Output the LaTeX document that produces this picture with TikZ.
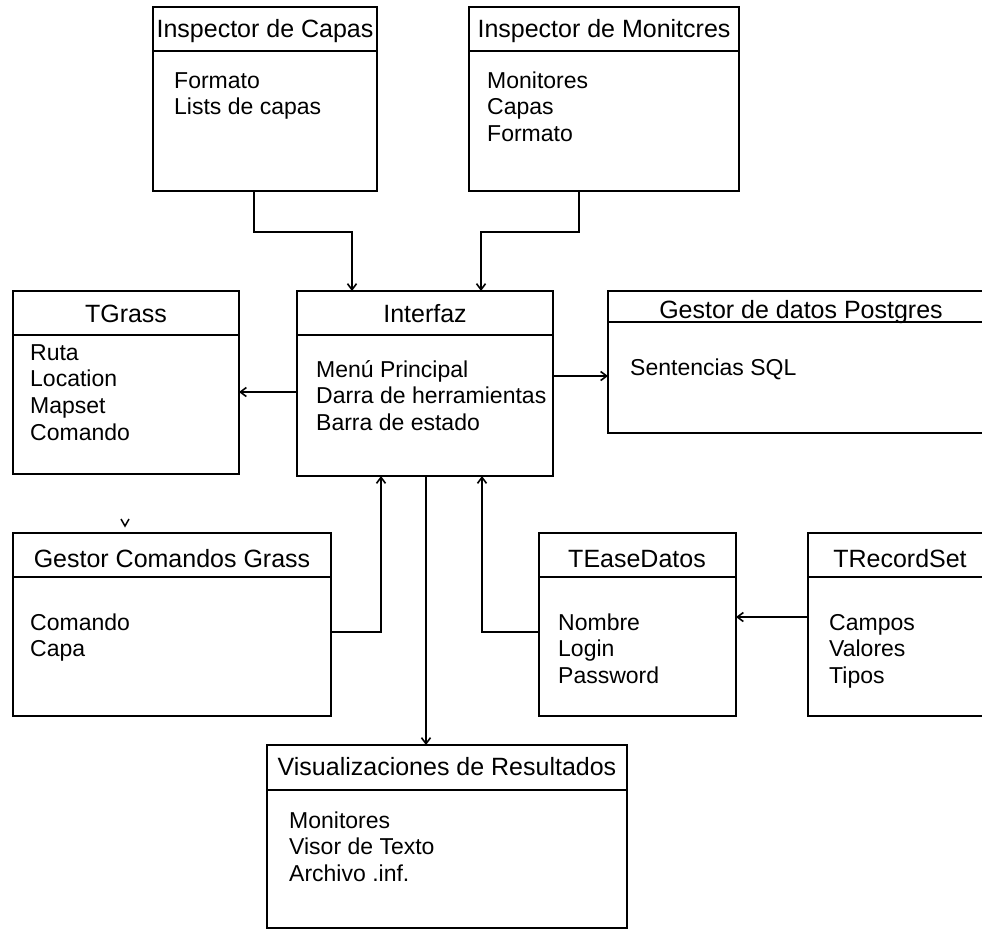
\documentclass[tikz,border=0pt]{standalone}
\usepackage{fontspec}
\setmainfont{Liberation Sans}
\usetikzlibrary{arrows.meta,calc}
\tikzset{
  cls/.style={draw, line width=2.6pt, rectangle, inner sep=0pt, outer sep=0pt, anchor=north west},
  sepline/.style={line width=2.6pt},
  link/.style={line width=2pt, -{Straight Barb[length=6pt,width=9pt,line width=1.6pt]}},
  ttl/.style={font=\fontsize{25}{30}\selectfont, anchor=base, inner sep=0pt},
  itm/.style={font=\fontsize{23}{27}\selectfont, anchor=base west, inner sep=0pt},
}
% class box: name, left, top, width, height, header depth
\newcommand\classbox[6]{%
  \node[cls, minimum width=#4pt, minimum height=#5pt] (#1) at (#2,#3) {};
  \draw[sepline] ($(#1.north west)+(0,#6)$) -- ($(#1.north east)+(0,#6)$);
}
% attribute list: box name, left, first baseline, items
\newcommand\classitems[4]{%
  \foreach \t [count=\k] in {#4} {\node[itm] (#1-\k) at (#2,{#3+26.7*(\k-1)}) {\t};}
}
\begin{document}
\begin{tikzpicture}[x=1pt,y=-1pt]
  \useasboundingbox (0,0) rectangle (982,930);
  \fill[white] (0,0) rectangle (982,930);
  \clip (0,0) rectangle (982,930);

  % upper row
  \classbox{capas}{153}{7}{224}{184}{44}
  \node[ttl] (capas-t) at (265,37) {Inspector de Capas};
  \classitems{capas}{174}{88}{Formato,Lists de capas}

  \classbox{monit}{469}{7}{270}{184}{44}
  \node[ttl] (monit-t) at (604,37) {Inspector de Monitcres};
  \classitems{monit}{487}{88}{Monitores,Capas,Formato}

  % middle row
  \classbox{tgrass}{13}{291}{226}{183}{44}
  \node[ttl] (tgrass-t) at (126,322) {TGrass};
  \classitems{tgrass}{30}{360}{Ruta,Location,Mapset,Comando}

  \classbox{interfaz}{297}{291}{256}{185}{44}
  \node[ttl] (interfaz-t) at (425,322) {Interfaz};
  \classitems{interfaz}{316}{377}{Menú Principal,Darra de herramientas,Barra de estado}

  \classbox{pg}{608}{291}{390}{142}{31}
  \node[ttl] (pg-t) at (801,318) {Gestor de datos Postgres};
  \classitems{pg}{630}{375}{Sentencias SQL}

  % lower row
  \classbox{gcg}{13}{533}{318}{183}{44}
  \node[ttl] (gcg-t) at (172,567) {Gestor Comandos Grass};
  \classitems{gcg}{30}{630}{Comando,Capa}

  \classbox{tbd}{539}{533}{197}{183}{44}
  \node[ttl] (tbd-t) at (637,567) {TEaseDatos};
  \classitems{tbd}{558}{630}{Nombre,Login,Password}

  \classbox{trs}{808}{533}{190}{183}{44}
  \node[ttl] (trs-t) at (900,567) {TRecordSet};
  \classitems{trs}{829}{630}{Campos,Valores,Tipos}

  \classbox{vis}{267}{745}{360}{183}{45}
  \node[ttl] (vis-t) at (447,775) {Visualizaciones de Resultados};
  \classitems{vis}{289}{828}{Monitores,Visor de Texto,Archivo .inf.}

  % connectors
  \draw[link] ($(capas.south)+(-11,0)$) -- ++(0,41) -| ($(interfaz.north)+(-73,0)$);
  \draw[link] ($(monit.south)+(-25,0)$) -- ++(0,41) -| ($(interfaz.north)+(56,0)$);
  \draw[link] ($(interfaz.west)+(0,8.5)$) coordinate (ia) -- (ia -| tgrass.east);
  \draw[link] ($(interfaz.east)+(0,-7.5)$) coordinate (ib) -- (ib -| pg.west);
  \draw[link] ($(gcg.east)+(0,7.5)$) -| ($(interfaz.south)+(-44,0)$);
  \draw[link] ($(tbd.west)+(0,7.5)$) -| ($(interfaz.south)+(57,0)$);
  \draw[link] ($(trs.west)+(0,-7.5)$) coordinate (ic) -- (ic -| tbd.east);
  \draw[link] ($(interfaz.south)+(1,0)$) coordinate (id) -- (id |- vis.north);

  % small tick above the command manager
  \draw[line width=1.5pt] (121,519) -- (125,526) -- (129,519);
\end{tikzpicture}
\end{document}
